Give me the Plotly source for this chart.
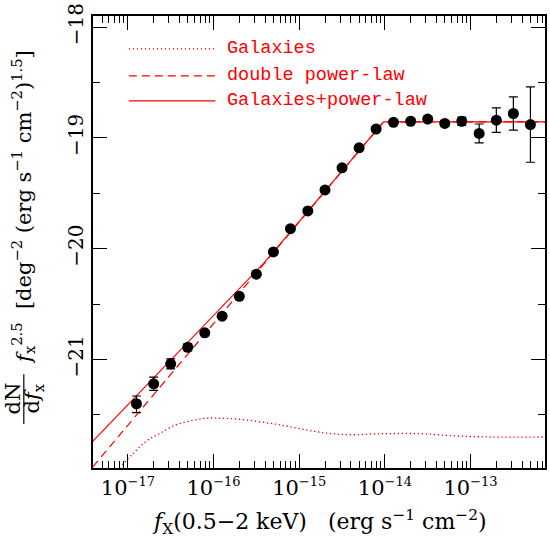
import plotly.graph_objects as go

# ---------------- data ----------------
flux = [1.26e-17, 2.0e-17, 3.16e-17, 5.0e-17, 7.9e-17, 1.26e-16, 2.0e-16, 3.16e-16,
        5.0e-16, 7.9e-16, 1.26e-15, 2.0e-15, 3.16e-15, 5.0e-15, 7.9e-15, 1.26e-14,
        2.0e-14, 3.16e-14, 5.0e-14, 7.9e-14, 1.26e-13, 2.0e-13, 3.16e-13, 5.0e-13]
log_counts = [-21.40, -21.22, -21.04, -20.89, -20.76, -20.61, -20.43, -20.23,
              -20.03, -19.82, -19.66, -19.47, -19.27, -19.09, -18.92, -18.86,
              -18.85, -18.83, -18.87, -18.85, -18.96, -18.84, -18.78, -18.88]
err_plus = [0.07, 0.06, 0.045, 0.03, 0.02, 0.02, 0.02, 0.02, 0.02, 0.02, 0.02, 0.02,
            0.02, 0.02, 0.02, 0.02, 0.02, 0.02, 0.025, 0.038, 0.085, 0.11, 0.15, 0.34]
err_minus = [0.08, 0.06, 0.045, 0.03, 0.02, 0.02, 0.02, 0.02, 0.02, 0.02, 0.02, 0.02,
             0.02, 0.02, 0.02, 0.02, 0.02, 0.02, 0.025, 0.038, 0.085, 0.11, 0.15, 0.34]

gal_flux = [7.9e-18, 1.15e-17, 1.62e-17, 2.34e-17, 3.63e-17, 5.75e-17, 8.1e-17, 1.07e-16,
            2.0e-16, 5.9e-16, 1.51e-15, 2.4e-15, 3.9e-15, 9.8e-15, 2.5e-14, 6.5e-14,
            1.66e-13, 7.4e-13]
gal_log = [-21.98, -21.85, -21.74, -21.67, -21.59, -21.55, -21.53, -21.53,
           -21.54, -21.59, -21.65, -21.67, -21.68, -21.67, -21.67, -21.69,
           -21.70, -21.70]

dpl_flux = [3.89e-18, 9.66e-15, 7.41e-13]
dpl_log = [-21.97, -18.856, -18.856]

sum_flux = [3.89e-18, 3.98e-16, 9.66e-15, 7.41e-13]
sum_log = [-21.74, -20.12, -18.856, -18.856]

legend_labels = ["Galaxies", "double power-law", "Galaxies+power-law"]
xtick_vals = [1e-17, 1e-16, 1e-15, 1e-14, 1e-13]
xtick_exps = ["−17", "−16", "−15", "−14", "−13"]
ytick_vals = [-21, -20, -19, -18]
ytick_text = ["−21", "−20", "−19", "−18"]

# ---------------- layout geometry ----------------
W, H = 550, 538
L, R, T, B = 93, 3, 15, 70
pw, ph = W - L - R, H - T - B


def px(x):
    return (x - L) / pw


def py(y):
    return (H - B - y) / ph


RED = "#ff0000"
SERIF = "DejaVu Serif"
FS = 21

fig = go.Figure()

fig.add_trace(go.Scatter(x=gal_flux, y=gal_log, mode="lines", line_shape="spline",
                         line=dict(color=RED, width=1.3, dash="1.3px,2.7px"),
                         showlegend=False, hoverinfo="skip"))
fig.add_trace(go.Scatter(x=dpl_flux, y=dpl_log, mode="lines",
                         line=dict(color=RED, width=1.2, dash="8px,5px"),
                         showlegend=False, hoverinfo="skip"))
fig.add_trace(go.Scatter(x=sum_flux, y=sum_log, mode="lines",
                         line=dict(color=RED, width=1.2),
                         showlegend=False, hoverinfo="skip"))
fig.add_trace(go.Scatter(x=flux, y=log_counts, mode="markers",
                         marker=dict(color="black", size=11),
                         error_y=dict(type="data", symmetric=False, array=err_plus,
                                      arrayminus=err_minus, color="black",
                                      thickness=1.2, width=4.5),
                         showlegend=False))

xminor = [m * 10.0 ** e for e in range(-18, -12) for m in range(2, 10)]
fig.update_xaxes(type="log", range=[-17.407, -12.131],
                 showline=True, linecolor="black", linewidth=1.5, mirror="allticks",
                 ticks="inside", ticklen=14, tickwidth=1.2, tickcolor="black",
                 tickmode="array", tickvals=xtick_vals,
                 ticktext=["10<sup><span style='font-size:13px'>%s</span></sup>" % e for e in xtick_exps],
                 minor=dict(ticks="inside", ticklen=7, tickwidth=1.1, tickcolor="black",
                            tickmode="array", tickvals=xminor),
                 showgrid=False, zeroline=False,
                 tickfont=dict(family=SERIF, size=FS, color="black"))
fig.update_yaxes(range=[-21.98, -17.90],
                 showline=True, linecolor="black", linewidth=1.5, mirror="allticks",
                 ticks="inside", ticklen=14, tickwidth=1.2, tickcolor="black",
                 tickmode="array", tickvals=ytick_vals, ticktext=ytick_text,
                 tickangle=-90,
                 minor=dict(ticks="inside", ticklen=7, tickwidth=1.1, tickcolor="black",
                            tickmode="array", tickvals=[-21.5, -20.5, -19.5, -18.5]),
                 showgrid=False, zeroline=False,
                 tickfont=dict(family=SERIF, size=FS - 1, color="black"))

# legend drawn by hand
shapes = []
annotations = []
rows_y = [48, 75, 100]
dash_styles = ["1.3px,2.7px", "8px,5px", "solid"]
for lbl, yy, d in zip(legend_labels, rows_y, dash_styles):
    shapes.append(dict(type="line", xref="paper", yref="paper",
                       x0=px(129), x1=px(216), y0=py(yy), y1=py(yy),
                       line=dict(color=RED, width=1.2, dash=d)))
    annotations.append(dict(xref="paper", yref="paper", x=px(226), y=py(yy),
                            xanchor="left", yanchor="middle", showarrow=False, text=lbl,
                            font=dict(family="Liberation Mono", size=18.5, color=RED)))

# x title
annotations.append(dict(xref="paper", yref="paper", x=px(320), y=py(522),
                        xanchor="center", yanchor="middle", showarrow=False,
                        text="<i>f</i><sub>X</sub>(0.5−2 keV)   (erg s<sup>−1</sup> cm<sup>−2</sup>)",
                        font=dict(family=SERIF, size=22, color="black")))

# y title (fraction dN/df_x then the rest), rotated
annotations.append(dict(xref="paper", yref="paper", x=px(13), y=py(398),
                        xanchor="center", yanchor="middle", showarrow=False, textangle=-90,
                        text="dN", font=dict(family=SERIF, size=FS, color="black")))
annotations.append(dict(xref="paper", yref="paper", x=px(33), y=py(398),
                        xanchor="center", yanchor="middle", showarrow=False, textangle=-90,
                        text="d<i>f</i><sub>x</sub>", font=dict(family=SERIF, size=FS, color="black")))
shapes.append(dict(type="line", xref="paper", yref="paper", x0=px(23.5), x1=px(23.5),
                   y0=py(374), y1=py(424), line=dict(color="black", width=1.2)))
annotations.append(dict(xref="paper", yref="paper", x=px(22), y=py(206),
                        xanchor="center", yanchor="middle", showarrow=False, textangle=-90,
                        text="<i>f</i><sub>x</sub><sup>2.5</sup>  [deg<sup>−2</sup> (erg s<sup>−1</sup> cm<sup>−2</sup>)<sup>1.5</sup>]",
                        font=dict(family=SERIF, size=FS, color="black")))

fig.update_layout(width=W, height=H, margin=dict(l=L, r=R, t=T, b=B),
                  paper_bgcolor="white", plot_bgcolor="white",
                  showlegend=False, shapes=shapes, annotations=annotations)

fig.write_html("out.html")
